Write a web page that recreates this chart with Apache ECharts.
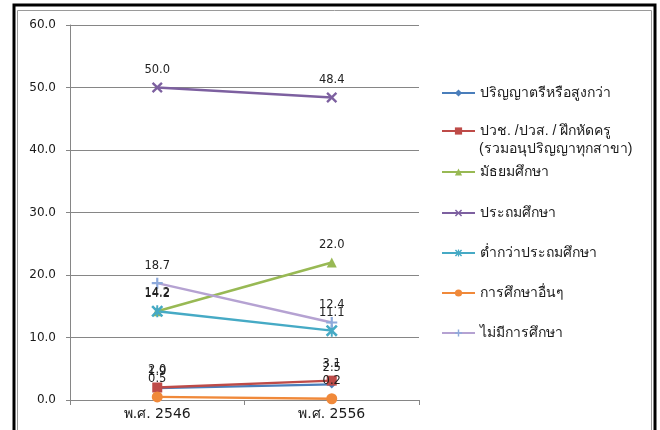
<!DOCTYPE html>
<html><head><meta charset="utf-8">
<script src="https://cdn.jsdelivr.net/npm/echarts@6/dist/echarts.min.js"></script>
<style>html,body{margin:0;padding:0;background:#fff}#c{width:660px;height:430px}</style>
</head><body><div id="c"></div>
<script>
var categories = ['พ.ศ. 2546', 'พ.ศ. 2556'];
var seriesNames = ['ปริญญาตรีหรือสูงกว่า', 'ปวช. /ปวส. / ฝึกหัดครู', 'มัธยมศึกษา', 'ประถมศึกษา', 'ต่ำกว่าประถมศึกษา', 'การศึกษาอื่นๆ', 'ไม่มีการศึกษา'];
var nameSecondLine = '(รวมอนุปริญญาทุกสาขา)';
var bachelor = [1.9, 2.5];
var vocational = [2.0, 3.1];
var secondary = [14.2, 22.0];
var primary = [50.0, 48.4];
var belowPrimary = [14.2, 11.1];
var otherEdu = [0.5, 0.2];
var noEdu = [18.7, 12.4];
var yTicks = [0, 10, 20, 30, 40, 50, 60];

var values = [bachelor, vocational, secondary, primary, belowPrimary, otherEdu, noEdu];
var lineColors = ['#4A7EBB', '#BE4B48', '#98B954', '#7D60A0', '#46AAC5', '#F0893A', '#B5A2D2'];
var markColors = ['#4A7EBB', '#BE4B48', '#98B954', '#7D60A0', '#46AAC5', '#F0893A', '#8EAADB'];
var X = 'path://M1.5,0L5,3.5L8.5,0L10,1.5L6.5,5L10,8.5L8.5,10L5,6.5L1.5,10L0,8.5L3.5,5L0,1.5Z';
var AST = 'path://M1.5,0L5,3.5L8.5,0L10,1.5L6.5,5L10,8.5L8.5,10L5,6.5L1.5,10L0,8.5L3.5,5L0,1.5Z M4.2,0H5.8V10H4.2Z';
var PLUS = 'path://M4,0H6V4H10V6H6V10H4V6H0V4H4Z';
var symbols = ['diamond', 'rect', 'triangle', X, AST, 'circle', PLUS];
var sizes = [8, 10, 10, 11, 12, 11, 11];
var legendCenters = [94, 132, 173, 214, 254, 294, 334];
var font = "'DejaVu Sans', Tahoma, sans-serif";

var series = values.map(function (v, i) {
  return {
    name: seriesNames[i], type: 'line', data: v,
    symbol: symbols[i], symbolSize: sizes[i],
    lineStyle: { color: lineColors[i], width: 2.5 },
    itemStyle: { color: markColors[i] },
    label: { show: true, position: 'top', distance: 6, color: '#222', fontFamily: font, fontSize: 11.5,
      formatter: function (p) { return p.value.toFixed(1); } },
    animation: false
  };
});

var legends = seriesNames.map(function (n, i) {
  return {
    data: [n], orient: 'vertical', left: 441, top: legendCenters[i] - 8,
    padding: 0, itemWidth: 33, itemHeight: 9, itemGap: 0,
    textStyle: { fontSize: 14, color: '#1a1a1a' },
    selectedMode: false
  };
});

var chart = echarts.init(document.getElementById('c'));
chart.setOption({
  animation: false,
  color: lineColors,
  graphic: [
    { type: 'rect', shape: { x: 14, y: 5, width: 641, height: 440 }, style: { fill: 'none', stroke: '#000', lineWidth: 3 }, silent: true },
    { type: 'rect', shape: { x: 17.5, y: 10.5, width: 634, height: 430 }, style: { fill: 'none', stroke: '#9a9a9a', lineWidth: 1 }, silent: true },
    { type: 'text', left: 479, top: 142, style: { text: nameSecondLine, fontSize: 14, fill: '#1a1a1a' }, silent: true }
  ],
  legend: legends,
  grid: { left: 70, top: 25, right: 241, bottom: 30 },
  xAxis: {
    type: 'category', data: categories, boundaryGap: true,
    axisLine: { lineStyle: { color: '#868686' } },
    axisTick: { show: true, length: 5, lineStyle: { color: '#868686' } },
    axisLabel: { color: '#1a1a1a', fontSize: 14, margin: 7, fontFamily: font }
  },
  yAxis: {
    type: 'value', min: yTicks[0], max: yTicks[yTicks.length - 1], interval: 10,
    axisLine: { show: true, lineStyle: { color: '#868686' } },
    axisTick: { show: true, length: 4, lineStyle: { color: '#868686' } },
    splitLine: { lineStyle: { color: '#868686' } },
    axisLabel: { color: '#1a1a1a', fontSize: 12, margin: 14, fontFamily: font,
      formatter: function (v) { return v.toFixed(1); } }
  },
  series: series
});
</script></body></html>
